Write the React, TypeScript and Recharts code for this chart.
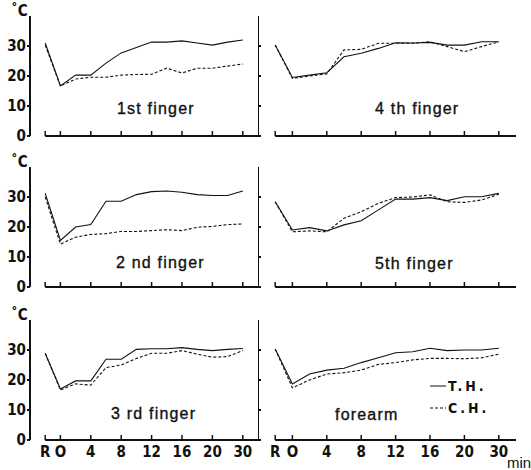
import { LineChart, Line, XAxis, YAxis, ReferenceLine } from 'recharts'

// minutes: R (rest), O (immersion), 2 .. 30 ; plotted on a linear position scale
const times = [-2, 0, 2, 4, 6, 8, 10, 12, 14, 16, 18, 20, 22, 24]
const xTicks = [-2, 0, 4, 8, 12, 16, 20, 24]
const xTickLabels = ['R', 'O', '4', '8', '12', '16', '20', '30']
const yTicks = [0, 10, 20, 30]

const f1TH = [31, 16.7, 20.3, 20.3, 24.3, 27.7, 29.5, 31.3, 31.3, 31.7, 31, 30.3, 31.3, 32]
const f1CH = [30.3, 16.7, 19, 19.6, 19.6, 20.3, 20.5, 20.6, 22.6, 21, 22.6, 22.6, 23.3, 24]
const f2TH = [31.2, 15.5, 20, 20.8, 28.6, 28.6, 30.8, 31.8, 32, 31.6, 30.8, 30.5, 30.5, 32]
const f2CH = [30, 14.3, 16.6, 17.5, 17.8, 18.5, 18.5, 18.8, 19.1, 18.8, 19.9, 20.2, 20.8, 21]
const f3TH = [28.9, 17, 19.7, 19.7, 26.9, 26.9, 30.2, 30.4, 30.4, 30.8, 30.2, 29.8, 30.2, 30.5]
const f3CH = [28.9, 16.7, 18.7, 18.3, 24.1, 25, 27.2, 28.9, 28.9, 29.8, 28.6, 27.6, 27.8, 29.8]
const f4TH = [30.3, 19.5, 20.3, 21.1, 26.4, 27.6, 29.2, 31.1, 31, 31.2, 30.3, 30.3, 31.4, 31.4]
const f4CH = [30.3, 19.2, 20, 20.7, 28.7, 28.9, 30.9, 30.9, 30.9, 31.4, 29.8, 28.1, 29.8, 31.4]
const f5TH = [28.4, 19, 19.8, 18.7, 20.7, 22.1, 25.7, 29.3, 29.3, 29.8, 28.8, 30.1, 30.1, 31.2]
const f5CH = [28.4, 18.4, 18.7, 18.4, 22.9, 25.1, 27.9, 29.8, 30, 30.7, 28.4, 28.2, 29, 30.9]
const faTH = [30.3, 18.7, 22, 23.3, 23.9, 25.8, 27.4, 29.1, 29.4, 30.6, 29.8, 30, 30, 30.6]
const faCH = [30.3, 17.4, 20, 22, 22.4, 23.3, 25.2, 25.8, 26.7, 27.2, 27.2, 27.1, 27.4, 28.6]

const INK = '#111'
const NARROW = '"DejaVu Sans Condensed", "DejaVu Sans", sans-serif'
const SANS = '"Liberation Sans", Arial, sans-serif'
const narrowStyle = { fontFamily: NARROW, fontWeight: 'bold' as const, fontStretch: 'condensed' }

interface PanelProps {
  left: number
  top: number
  title: string
  titleX: number
  titleY: number
  th: number[]
  ch: number[]
  leftSide: boolean
  bottom: boolean
}

function XTick(props: any) {
  const { x, y, payload, bottom } = props
  const i = xTicks.indexOf(payload.value)
  return (
    <g>
      <line x1={x} x2={x} y1={y} y2={y - 5} stroke={INK} strokeWidth={1.5} />
      {bottom && (
        <text x={x} y={y + 17} textAnchor="middle" fill={INK} fontSize={15} style={narrowStyle}>
          {xTickLabels[i]}
        </text>
      )}
    </g>
  )
}

function Panel({ left, top, title, titleX, titleY, th, ch, leftSide, bottom }: PanelProps) {
  const rows = times.map((x, i) => ({ x, th: th[i], ch: ch[i] }))
  return (
    <div style={{ position: 'absolute', left, top }}>
      <LineChart width={266} height={166} data={rows} margin={{ top: 16, right: 8, left: 0, bottom: 0 }}>
        <XAxis type="number" dataKey="x" domain={[-4, 26]} ticks={xTicks} axisLine={false} tickLine={false}
          tickSize={0} tickMargin={0} height={30} interval={0}
          tick={(p: any) => <XTick {...p} bottom={bottom} />} />
        <YAxis domain={[0, 40]} ticks={yTicks} width={30} tickSize={3} tickMargin={1} mirror={!leftSide}
          axisLine={{ stroke: INK, strokeWidth: 2 }} tickLine={{ stroke: INK, strokeWidth: 2 }}
          tickFormatter={(v) => (leftSide ? String(v) : '')}
          tick={{ fill: INK, fontSize: 15, style: narrowStyle }} />
        <ReferenceLine segment={[{ x: -2, y: 0 }, { x: 26, y: 0 }]} stroke={INK} strokeWidth={2} />
        <Line type="linear" dataKey="th" stroke={INK} strokeWidth={1.1} dot={false} isAnimationActive={false} />
        <Line type="linear" dataKey="ch" stroke={INK} strokeWidth={1.1} strokeDasharray="3 2" dot={false} isAnimationActive={false} />
      </LineChart>
      {leftSide && (
        <div style={{ position: 'absolute', left: 11, top: 2, fontSize: 15, color: INK, ...narrowStyle }}>
          ˚C
        </div>
      )}
      <div style={{
        position: 'absolute', left: titleX - left, top: titleY - top - 9, lineHeight: '18px', whiteSpace: 'nowrap',
        fontFamily: SANS, fontSize: 16, letterSpacing: 1.2, color: INK, WebkitTextStroke: '0.35px #111',
      }}>
        {title}
      </div>
    </div>
  )
}

export default function App() {
  const legendText = { position: 'absolute' as const, left: 448, lineHeight: '18px', fontSize: 14, letterSpacing: 3, color: INK, ...narrowStyle }
  return (
    <div style={{ position: 'absolute', left: 0, top: 0, width: 531, height: 470, background: '#fff', overflow: 'hidden' }}>
      <Panel left={0} top={0} title="1st finger" titleX={117} titleY={109} th={f1TH} ch={f1CH} leftSide bottom={false} />
      <Panel left={0} top={151} title="2 nd finger" titleX={116} titleY={263} th={f2TH} ch={f2CH} leftSide bottom={false} />
      <Panel left={0} top={304} title="3 rd finger" titleX={111} titleY={414} th={f3TH} ch={f3CH} leftSide bottom />
      <Panel left={258} top={0} title="4 th finger" titleX={375} titleY={109} th={f4TH} ch={f4CH} leftSide={false} bottom={false} />
      <Panel left={258} top={151} title="5th finger" titleX={375} titleY={264} th={f5TH} ch={f5CH} leftSide={false} bottom={false} />
      <Panel left={258} top={304} title="forearm" titleX={335} titleY={415} th={faTH} ch={faCH} leftSide={false} bottom />
      {/* legend */}
      <svg style={{ position: 'absolute', left: 428, top: 380 }} width={20} height={34}>
        <line x1={2} x2={18} y1={6} y2={6} stroke={INK} strokeWidth={1} />
        <line x1={2} x2={18} y1={28} y2={28} stroke={INK} strokeWidth={1} strokeDasharray="3 2" />
      </svg>
      <div style={{ ...legendText, top: 377 }}>T.H.</div>
      <div style={{ ...legendText, top: 399 }}>C.H.</div>
      <div style={{ position: 'absolute', left: 507, top: 456, lineHeight: '14px', fontFamily: SANS, fontSize: 15, color: INK }}>min</div>
    </div>
  )
}
